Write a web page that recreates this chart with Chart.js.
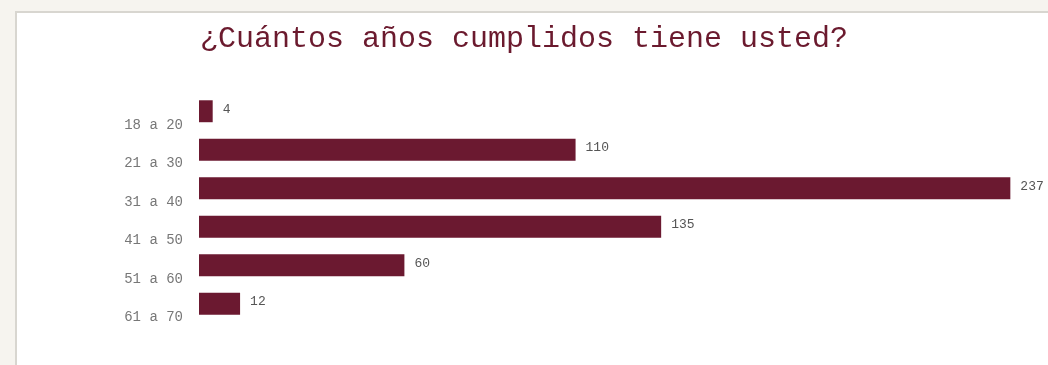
<!DOCTYPE html>
<html lang="es">
<head>
  <meta charset="UTF-8">
  <title>¿Cuántos años cumplidos tiene usted?</title>
  <script src="https://cdn.jsdelivr.net/npm/chart.js"></script>
  <style>
    html, body { margin: 0; padding: 0; }
    body { width: 1048px; height: 365px; background: #f6f4ef; position: relative; overflow: hidden; }
    .tarjeta { position: absolute; left: 15px; top: 11px; width: 1040px; height: 360px; background: #fff; border-left: 2px solid #d8d6d0; border-top: 2px solid #d8d6d0; }
    #grafico { position: absolute; left: 0; top: 0; }
  </style>
</head>
<body>
  <div class="tarjeta"></div>
  <canvas id="grafico" width="1048" height="365"></canvas>

  <script>
    // Rangos de edad y número de respuestas
    const rangos = ['18 a 20', '21 a 30', '31 a 40', '41 a 50', '51 a 60', '61 a 70'];
    const respuestas = [4, 110, 237, 135, 60, 12];
    const tituloPregunta = '¿Cuántos años cumplidos tiene usted?';

    const granate = '#6b1930';
    const fuenteMono = "'Liberation Mono', 'Courier New', monospace";

    // Escribe el valor a la derecha de cada barra
    const valoresBarras = {
      id: 'valoresBarras',
      afterDatasetsDraw(chart) {
        const ctx = chart.ctx;
        const meta = chart.getDatasetMeta(0);
        ctx.save();
        ctx.font = '13px ' + fuenteMono;
        ctx.fillStyle = '#555';
        ctx.textAlign = 'left';
        ctx.textBaseline = 'middle';
        meta.data.forEach((barra, i) => {
          ctx.fillText(String(respuestas[i]), barra.x + 10, barra.y - 2);
        });
        ctx.restore();
      }
    };

    const ctx = document.getElementById('grafico').getContext('2d');
    new Chart(ctx, {
      type: 'bar',
      data: {
        labels: rangos,
        datasets: [{
          data: respuestas,
          backgroundColor: granate,
          borderWidth: 0,
          categoryPercentage: 1,
          barPercentage: 0.57
        }]
      },
      options: {
        indexAxis: 'y',
        responsive: false,
        animation: false,
        layout: { padding: { left: 0, right: 0, top: 0, bottom: 42 } },
        plugins: {
          legend: { display: false },
          tooltip: { enabled: false },
          title: {
            display: true,
            text: tituloPregunta,
            color: '#6b1a2e',
            font: { family: fuenteMono, size: 30, weight: 'normal' },
            padding: { top: 21, bottom: 35 }
          }
        },
        scales: {
          x: { display: false, min: 0, max: 248 },
          y: {
            grid: { display: false },
            border: { display: false },
            ticks: {
              color: '#777',
              padding: 8,
              labelOffset: 14,
              font: { family: fuenteMono, size: 14 }
            },
            afterFit(scale) { scale.width = 199; }
          }
        }
      },
      plugins: [valoresBarras]
    });
  </script>
</body>
</html>
